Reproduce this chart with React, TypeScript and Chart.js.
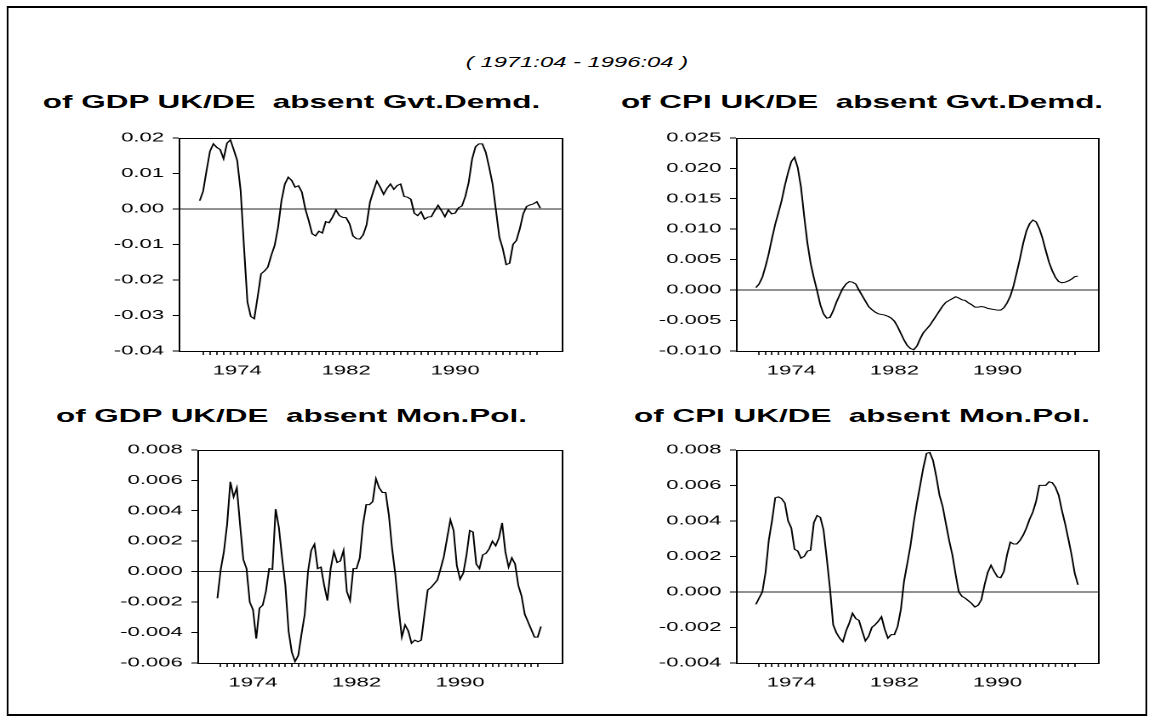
import React, { useEffect, useRef } from 'react';
import { Chart, registerables } from 'chart.js';

Chart.register(...registerables);

// ---------------- data ----------------
const sampleTitle = '( 1971:04 - 1996:04 )';
const firstQuarter = 1971.75; // 1971:04
const xLabelYears = [1974, 1982, 1990];

const gdpGvt = [
  0.0023, 0.0050, 0.0108, 0.0162, 0.0183, 0.0173, 0.0167, 0.0141, 0.0185, 0.0194,
  0.0166, 0.0136, 0.0052, -0.0108, -0.0262, -0.0303, -0.0309, -0.0248, -0.0183, -0.0175,
  -0.0164, -0.0131, -0.0103, -0.0052, 0.0023, 0.0070, 0.0089, 0.0080, 0.0061, 0.0065,
  0.0047, 0.0000, -0.0033, -0.0070, -0.0076, -0.0063, -0.0068, -0.0036, -0.0039, -0.0023,
  -0.0003, -0.0019, -0.0024, -0.0025, -0.0042, -0.0076, -0.0084, -0.0085, -0.0073, -0.0045,
  0.0019, 0.0050, 0.0078, 0.0061, 0.0041, 0.0058, 0.0070, 0.0055, 0.0066, 0.0070,
  0.0035, 0.0033, 0.0027, -0.0012, -0.0019, -0.0008, -0.0029, -0.0023, -0.0022, -0.0005,
  0.0010, -0.0005, -0.0022, -0.0003, -0.0014, -0.0012, 0.0003, 0.0008, 0.0035, 0.0075,
  0.0141, 0.0175, 0.0183, 0.0183, 0.0159, 0.0117, 0.0070, -0.0005, -0.0080, -0.0112,
  -0.0157, -0.0153, -0.0100, -0.0089, -0.0056, -0.0014, 0.0007, 0.0011, 0.0014, 0.0020,
  0.0002,
];

const cpiGvt = [
  0.0004, 0.0010, 0.0021, 0.0039, 0.0060, 0.0085, 0.0108, 0.0127, 0.0147, 0.0172,
  0.0193, 0.0211, 0.0218, 0.0201, 0.0169, 0.0121, 0.0077, 0.0044, 0.0020, -0.0001,
  -0.0024, -0.0039, -0.0046, -0.0045, -0.0034, -0.0020, -0.0008, 0.0003, 0.0010, 0.0014,
  0.0013, 0.0010, 0.0000, -0.0009, -0.0018, -0.0027, -0.0032, -0.0036, -0.0039, -0.0040,
  -0.0041, -0.0043, -0.0046, -0.0051, -0.0060, -0.0071, -0.0082, -0.0091, -0.0096, -0.0098,
  -0.0092, -0.0080, -0.0070, -0.0064, -0.0058, -0.0050, -0.0042, -0.0034, -0.0026, -0.0020,
  -0.0017, -0.0014, -0.0011, -0.0013, -0.0016, -0.0017, -0.0021, -0.0024, -0.0028, -0.0028,
  -0.0027, -0.0028, -0.0030, -0.0031, -0.0032, -0.0033, -0.0033, -0.0029, -0.0021, -0.0010,
  0.0007, 0.0029, 0.0052, 0.0077, 0.0097, 0.0109, 0.0115, 0.0112, 0.0101, 0.0085,
  0.0065, 0.0046, 0.0032, 0.0021, 0.0014, 0.0012, 0.0013, 0.0015, 0.0018, 0.0022,
  0.0023,
];

const gdpMon = [
  -0.00175, 0.0001, 0.0013, 0.0031, 0.0059, 0.0049, 0.0055, 0.0031, 0.0008, 0.0002,
  -0.0020, -0.0025, -0.0044, -0.0024, -0.0022, -0.0013, 0.0002, 0.00015, 0.0041, 0.0029,
  0.0009, -0.0009, -0.0039, -0.0053, -0.0059, -0.0055, -0.0041, -0.0028, 0.0000, 0.0014,
  0.0018, 0.0002, 0.0003, -0.0009, -0.0019, 0.0002, 0.0013, 0.0006, 0.0007, 0.0014,
  -0.0013, -0.0019, 0.0002, 0.0002, 0.0009, 0.0031, 0.0044, 0.0044, 0.0046, 0.0061,
  0.0055, 0.0052, 0.0052, 0.0037, 0.0015, -0.0002, -0.0024, -0.0043, -0.0035, -0.0039,
  -0.0047, -0.0045, -0.0046, -0.0045, -0.0028, -0.0012, -0.00105, -0.0008, -0.00055, 0.0002,
  0.0010, 0.0022, 0.0034, 0.0027, 0.0004, -0.0005, -0.0001, 0.0011, 0.0027, 0.0026,
  0.0005, 0.0002, 0.0011, 0.0012, 0.0015, 0.0020, 0.0017, 0.0022, 0.0032, 0.0013,
  0.0003, 0.0009, 0.0005, -0.0009, -0.0016, -0.0028, -0.0033, -0.0038, -0.0043, -0.0043,
  -0.0036,
];

const cpiMon = [
  -0.0007, -0.00035, 0.0000, 0.0011, 0.0029, 0.0040, 0.0053, 0.00535, 0.00525, 0.0050,
  0.0040, 0.0036, 0.0024, 0.0023, 0.0019, 0.0020, 0.0023, 0.00235, 0.0039, 0.0043,
  0.0042, 0.0035, 0.0019, 0.0002, -0.00185, -0.0023, -0.0026, -0.0028, -0.0022, -0.00175,
  -0.0012, -0.0015, -0.0016, -0.0022, -0.00275, -0.0025, -0.0020, -0.00185, -0.00165, -0.0014,
  -0.0021, -0.0026, -0.0024, -0.0024, -0.00195, -0.0010, 0.0006, 0.0016, 0.0026, 0.0039,
  0.0050, 0.0060, 0.0070, 0.0078, 0.00785, 0.0074, 0.0065, 0.00545, 0.0048, 0.00385,
  0.0029, 0.0021, 0.0010, 0.0000, -0.00025, -0.00035, -0.0005, -0.00065, -0.00085, -0.00075,
  -0.00045, 0.0004, 0.0011, 0.0015, 0.00115, 0.00085, 0.0008, 0.00115, 0.0021, 0.0028,
  0.0027, 0.0027, 0.0029, 0.0032, 0.0036, 0.0041, 0.0045, 0.0051, 0.0060, 0.0060,
  0.0060, 0.0062, 0.00615, 0.0059, 0.00545, 0.0046, 0.00385, 0.0030, 0.0021, 0.00105,
  0.0004,
];

const yTicksGdpGvt = [-0.04, -0.03, -0.02, -0.01, 0, 0.01, 0.02];
const yTicksCpiGvt = [-0.01, -0.005, 0, 0.005, 0.01, 0.015, 0.02, 0.025];
const yTicksGdpMon = [-0.006, -0.004, -0.002, 0, 0.002, 0.004, 0.006, 0.008];
const yTicksCpiMon = [-0.004, -0.002, 0, 0.002, 0.004, 0.006, 0.008];

// ---------------- layout ----------------
const PAGE_W = 1154;
const INNER_W = 679;
const S = PAGE_W / INNER_W; // horizontal stretch of the whole picture
const u = (x: number) => x / S;
const FONT = "'Liberation Sans', Arial, Helvetica, sans-serif";

const X_MIN = 1970.2;
const X_MAX = 1998.3;
const minorTicks: number[] = [];
for (let t = 1972; t <= 1996.5 + 1e-9; t += 0.5) minorTicks.push(t);

const quarters = gdpGvt.map((_, i) => firstQuarter + i * 0.25);

type PanelCfg = {
  title: string;
  values: number[];
  yTicks: number[];
  decimals: number;
  plotL: number; plotR: number; plotT: number; plotB: number;
  titleCx: number; titleCy: number;
};

const panels: PanelCfg[] = [
  { title: 'of GDP UK/DE  absent Gvt.Demd.', values: gdpGvt, yTicks: yTicksGdpGvt, decimals: 2,
    plotL: 178, plotR: 560, plotT: 137, plotB: 351, titleCx: 291.5, titleCy: 102 },
  { title: 'of CPI UK/DE  absent Gvt.Demd.', values: cpiGvt, yTicks: yTicksCpiGvt, decimals: 3,
    plotL: 736, plotR: 1098, plotT: 137, plotB: 351, titleCx: 862, titleCy: 102 },
  { title: 'of GDP UK/DE  absent Mon.Pol.', values: gdpMon, yTicks: yTicksGdpMon, decimals: 3,
    plotL: 197, plotR: 560, plotT: 449, plotB: 663, titleCx: 291.5, titleCy: 416 },
  { title: 'of CPI UK/DE  absent Mon.Pol.', values: cpiMon, yTicks: yTicksCpiMon, decimals: 3,
    plotL: 736, plotR: 1098, plotT: 449, plotB: 663, titleCx: 862, titleCy: 416 },
];

const framePlugin = {
  id: 'frame',
  afterDraw(chart: any) {
    const { ctx, chartArea: a } = chart;
    ctx.save();
    ctx.strokeStyle = '#000';
    ctx.lineWidth = 1;
    ctx.strokeRect(Math.round(a.left) + 0.5, Math.round(a.top) + 0.5,
      Math.round(a.right - a.left), Math.round(a.bottom - a.top));
    ctx.restore();
  },
};

const YW = 60, TP = 12, RP = 6, XH = 32;

function Panel({ cfg }: { cfg: PanelCfg }) {
  const ref = useRef<HTMLCanvasElement>(null);
  const left = u(cfg.plotL) - YW;
  const top = cfg.plotT - TP;
  const width = YW + u(cfg.plotR) - u(cfg.plotL) + RP;
  const height = TP + (cfg.plotB - cfg.plotT) + XH;

  useEffect(() => {
    if (!ref.current) return;
    const yMin = cfg.yTicks[0];
    const yMax = cfg.yTicks[cfg.yTicks.length - 1];
    const chart = new Chart(ref.current, {
      type: 'line',
      data: {
        datasets: [{
          data: cfg.values.map((v, i) => ({ x: quarters[i], y: v })),
          borderColor: '#000',
          borderWidth: 1,
          pointRadius: 0,
          tension: 0,
          fill: false,
        }],
      },
      options: {
        animation: false,
        responsive: true,
        maintainAspectRatio: false,
        devicePixelRatio: 2,
        events: [],
        layout: { padding: { top: TP, right: RP, left: 0, bottom: 0 } },
        plugins: { legend: { display: false }, tooltip: { enabled: false }, title: { display: false } },
        scales: {
          x: {
            type: 'linear',
            min: X_MIN,
            max: X_MAX,
            afterBuildTicks: (s: any) => { s.ticks = minorTicks.map((v) => ({ value: v })); },
            afterFit: (s: any) => { s.height = XH; },
            ticks: {
              autoSkip: false,
              maxRotation: 0,
              padding: 8,
              color: '#000',
              font: { family: FONT, size: 13 },
              callback: (v: any) => {
                const yr = xLabelYears.find((y) => Math.abs(Number(v) - (y + 0.5)) < 1e-6);
                return yr !== undefined ? String(yr) : '';
              },
            },
            grid: { drawOnChartArea: false, drawTicks: true, tickLength: 4, tickColor: '#333' },
            border: { display: false },
          },
          y: {
            type: 'linear',
            min: yMin,
            max: yMax,
            afterBuildTicks: (s: any) => { s.ticks = cfg.yTicks.map((v) => ({ value: v })); },
            afterFit: (s: any) => { s.width = YW; },
            ticks: {
              padding: 5,
              color: '#000',
              font: { family: FONT, size: 13 },
              callback: (v: any) => Number(v).toFixed(cfg.decimals),
            },
            grid: {
              color: (ctx: any) => (ctx.tick && Math.abs(ctx.tick.value) < 1e-12 ? '#222' : 'rgba(0,0,0,0)'),
              tickColor: '#000',
              tickLength: 3.5,
              lineWidth: 1,
            },
            border: { display: false },
          },
        },
      },
      plugins: [framePlugin],
    } as any);
    return () => chart.destroy();
  }, []);

  return (
    <div style={{ position: 'absolute', left, top, width, height }}>
      <canvas ref={ref} />
    </div>
  );
}

export default function App() {
  return (
    <div
      style={{
        position: 'fixed', left: 0, top: 0, width: INNER_W, height: 724,
        background: '#fff', transform: `scaleX(${S})`, transformOrigin: '0 0',
        fontFamily: FONT, color: '#000',
      }}
    >
      <div
        style={{
          position: 'absolute', left: u(6), top: 6, width: u(1148 - 6), height: 710,
          boxSizing: 'border-box', borderStyle: 'solid', borderColor: '#000',
          borderWidth: '2px 1px 2px 1px',
        }}
      />
      <div
        style={{
          position: 'absolute', left: u(577) - 150, width: 300, top: 62 - 10,
          lineHeight: '20px', textAlign: 'center', fontStyle: 'italic', fontSize: 14,
        }}
      >
        {sampleTitle}
      </div>
      {panels.map((p, i) => (
        <div
          key={'t' + i}
          style={{
            position: 'absolute', left: u(p.titleCx) - 170, width: 340, top: p.titleCy - 12,
            lineHeight: '24px', textAlign: 'center', fontWeight: 'bold', fontSize: 18.5,
            whiteSpace: 'pre',
          }}
        >
          {p.title}
        </div>
      ))}
      {panels.map((p, i) => (
        <Panel key={i} cfg={p} />
      ))}
    </div>
  );
}
